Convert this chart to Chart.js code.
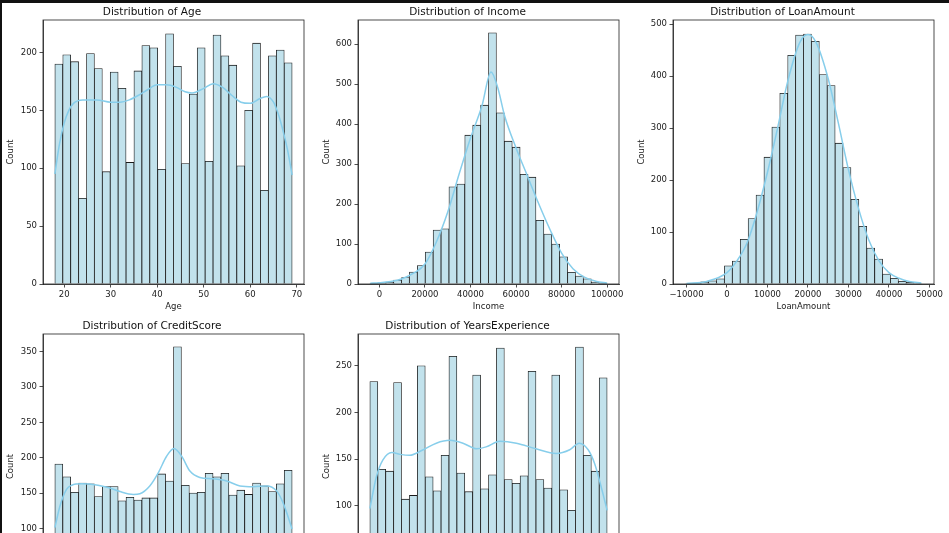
<!DOCTYPE html>
<html>
<head>
<meta charset="utf-8">
<script src="https://cdn.jsdelivr.net/npm/chart.js@4.4.1/dist/chart.umd.min.js"></script>
<style>
  html, body { margin: 0; padding: 0; background: #fff; }
  body { width: 949px; height: 533px; overflow: hidden; position: relative; }
  canvas { position: absolute; }
  .edge { position: absolute; background: #111; }
</style>
</head>
<body>
<div class="edge" style="left:0;top:0;width:949px;height:3px"></div>
<div class="edge" style="left:0;top:0;width:2px;height:533px"></div>
<canvas id="age" width="316" height="315" style="left:0;top:0"></canvas>
<canvas id="income" width="315" height="315" style="left:316px;top:0"></canvas>
<canvas id="loan" width="318" height="315" style="left:631px;top:0"></canvas>
<canvas id="credit" width="316" height="316" style="left:0;top:314px"></canvas>
<canvas id="years" width="315" height="316" style="left:316px;top:314px"></canvas>
<script>
// histogram counts (30 bins each)
const ageCounts = [190, 198, 192, 74, 199, 186, 97, 183, 169, 105, 184, 206, 204, 99, 216,
  188, 104, 164, 204, 106, 215, 197, 189, 102, 150, 208, 81, 197, 202, 191];
const incomeCounts = [1, 3, 5, 10, 16, 30, 46, 80, 135, 138, 243, 250, 372, 397, 447,
  628, 428, 357, 342, 274, 267, 159, 125, 100, 68, 29, 20, 13, 5, 2];
const loanCounts = [1, 2, 4, 6, 10, 35, 44, 86, 126, 171, 244, 302, 367, 440, 479,
  481, 467, 403, 382, 271, 224, 163, 111, 69, 48, 19, 11, 5, 3, 1];
const creditCounts = [191, 173, 151, 164, 163, 145, 159, 159, 139, 144, 140, 143, 143, 177, 167,
  357, 161, 150, 151, 178, 173, 178, 147, 154, 148, 164, 160, 152, 163, 182];
const yearsCounts = [233, 139, 137, 232, 107, 111, 250, 131, 116, 154, 260, 135, 115, 240, 118,
  133, 269, 128, 124, 132, 244, 128, 119, 240, 117, 95, 270, 154, 137, 237];

// bin ranges [first edge, last edge]
const ageRange = [18, 69];
const incomeRange = [-4200, 100000];
const loanRange = [-10400, 48200];
const creditRange = [300, 850];
const yearsRange = [0, 40];

// kde curves
const ageKdeX = [18, 19, 20, 21, 22, 24, 27, 30, 32, 34, 36, 38, 40, 42, 44, 46, 47.5, 50, 52, 54,
  56, 58, 60, 62, 63.5, 65, 66, 67, 68, 69];
const ageKdeY = [95, 121, 139, 150, 156, 159, 159, 157, 157, 159, 163, 168, 172, 172, 170, 166, 165, 169, 173, 170,
  163, 157, 156, 160, 162, 157, 147, 133, 116, 94];
const incomeKdeX = [-4000, 0, 5000, 10000, 15000, 20000, 25000, 30000, 35000, 40000, 45000, 49000,
  52000, 55000, 60000, 65000, 70000, 75000, 80000, 85000, 90000, 95000, 100000];
const incomeKdeY = [2, 3, 6, 13, 27, 50, 105, 180, 275, 365, 445, 530,
  490, 420, 340, 270, 200, 135, 77, 38, 17, 7, 2];
const loanKdeX = [-10000, -5000, 0, 2500, 5000, 7500, 10000, 12500, 15000, 18000, 20000, 22000,
  25000, 27500, 30000, 32500, 35000, 37500, 40000, 42500, 45000, 48000];
const loanKdeY = [1, 5, 22, 45, 80, 140, 215, 300, 390, 465, 480, 465,
  395, 310, 220, 145, 85, 45, 22, 11, 5, 2];
const creditKdeX = [300, 312, 327, 339, 362, 400, 428, 451, 482, 497, 520, 540, 559, 576, 594,
  613, 636, 667, 698, 729, 760, 791, 814, 829, 850];
const creditKdeY = [101, 132, 155, 161, 163, 161, 157, 152, 148, 149, 160, 179, 202, 213, 202,
  181, 172, 170, 167, 160, 159, 160, 153, 136, 99];
const yearsKdeX = [0, 1.1, 2.2, 3.7, 5.1, 6.7, 9, 11.2, 13.5, 15.7, 18, 19.6, 21.9, 24.7, 28,
  31.4, 33.7, 35.3, 36.8, 37.9, 39, 40];
const yearsKdeY = [97, 131, 149, 157, 155, 154, 160, 167, 170, 167, 161, 163, 169, 167, 161,
  156, 160, 167, 160, 145, 120, 95];

// tick labels
const ageXTicks = [20, 30, 40, 50, 60, 70];
const ageYTicks = [0, 50, 100, 150, 200];
const incomeXTicks = [0, 20000, 40000, 60000, 80000, 100000];
const incomeYTicks = [0, 100, 200, 300, 400, 500, 600];
const loanXTicks = [-10000, 0, 10000, 20000, 30000, 40000, 50000];
const loanYTicks = [0, 100, 200, 300, 400, 500];
const creditXTicks = [300, 400, 500, 600, 700, 800];
const creditYTicks = [0, 50, 100, 150, 200, 250, 300, 350];
const yearsXTicks = [0, 10, 20, 30, 40];
const yearsYTicks = [0, 50, 100, 150, 200, 250];

const FONT = 'DejaVu Sans';
const INK = '#222';

// draw top and right spines too
const frame = {
  id: 'frame',
  afterDatasetsDraw(chart) {
    const { ctx, chartArea: a } = chart;
    ctx.save();
    ctx.strokeStyle = INK;
    ctx.lineWidth = 0.8;
    ctx.strokeRect(a.left, a.top, a.right - a.left, a.bottom - a.top);
    ctx.restore();
  }
};

function fmt(v) {
  return v < 0 ? '\u2212' + Math.abs(v) : String(v);
}

function hist(id, o) {
  const w = (o.range[1] - o.range[0]) / o.counts.length;
  const bars = o.counts.map((c, i) => ({ x: o.range[0] + w * (i + 0.5), y: c }));
  const kde = o.kdeX.map((x, i) => ({ x: x, y: o.kdeY[i] }));
  const span = o.range[1] - o.range[0];

  new Chart(document.getElementById(id), {
    type: 'bar',
    data: {
      datasets: [
        {
          type: 'line',
          data: kde,
          borderColor: '#87ceeb',
          borderWidth: 1.5,
          pointRadius: 0,
          tension: 0.4,
          cubicInterpolationMode: 'monotone',
          order: 0
        },
        {
          data: bars,
          backgroundColor: '#c2e2ec',
          borderColor: '#1a1a1a',
          borderWidth: 0.8,
          barPercentage: 1,
          categoryPercentage: 1,
          order: 1
        }
      ]
    },
    options: {
      responsive: false,
      animation: false,
      layout: { padding: { left: 0, right: o.padRight, top: 0, bottom: 0 } },
      plugins: {
        legend: { display: false },
        tooltip: { enabled: false },
        title: {
          display: true,
          text: o.title,
          color: '#111',
          font: { family: FONT, size: 10.5, weight: 'normal', lineHeight: 1.2 },
          padding: { top: 6, bottom: 1.4 }
        }
      },
      scales: {
        x: {
          type: 'linear',
          offset: false,
          min: o.range[0] - span * 0.05,
          max: o.range[1] + span * 0.05,
          afterBuildTicks: s => { s.ticks = o.xTicks.map(v => ({ value: v })); },
          afterFit: s => { s.height = 31; },
          grid: { display: true, offset: false, drawOnChartArea: false, drawTicks: true,
            tickLength: 3.5, tickWidth: 0.8, tickColor: INK },
          border: { display: true, color: INK, width: 0.8 },
          ticks: { color: INK, padding: 2.5, maxRotation: 0, autoSkip: false,
            font: { family: FONT, size: 8.5 }, callback: v => fmt(v) },
          title: { display: true, text: o.xLabel, color: INK,
            font: { family: FONT, size: 8.5 }, padding: { top: 0, bottom: 3 } }
        },
        y: {
          min: 0,
          max: o.yMax,
          afterBuildTicks: s => { s.ticks = o.yTicks.map(v => ({ value: v })); },
          afterFit: s => { s.width = o.yWidth; },
          grid: { display: true, drawOnChartArea: false, drawTicks: true,
            tickLength: 3.5, tickWidth: 0.8, tickColor: INK },
          border: { display: true, color: INK, width: 0.8 },
          ticks: { color: INK, padding: 2.5, autoSkip: false,
            font: { family: FONT, size: 8.5 }, callback: v => fmt(v) },
          title: { display: true, text: 'Count', color: INK,
            font: { family: FONT, size: 8.5 }, padding: { top: 5.8, bottom: 0 } }
        }
      }
    },
    plugins: [frame]
  });
}

hist('age', { title: 'Distribution of Age', xLabel: 'Age', counts: ageCounts, range: ageRange,
  kdeX: ageKdeX, kdeY: ageKdeY, xTicks: ageXTicks, yTicks: ageYTicks, yMax: 228, yWidth: 43, padRight: 12 });
hist('income', { title: 'Distribution of Income', xLabel: 'Income', counts: incomeCounts, range: incomeRange,
  kdeX: incomeKdeX, kdeY: incomeKdeY, xTicks: incomeXTicks, yTicks: incomeYTicks, yMax: 660, yWidth: 42, padRight: 12 });
hist('loan', { title: 'Distribution of LoanAmount', xLabel: 'LoanAmount', counts: loanCounts, range: loanRange,
  kdeX: loanKdeX, kdeY: loanKdeY, xTicks: loanXTicks, yTicks: loanYTicks, yMax: 508, yWidth: 42, padRight: 15 });
hist('credit', { title: 'Distribution of CreditScore', xLabel: 'CreditScore', counts: creditCounts, range: creditRange,
  kdeX: creditKdeX, kdeY: creditKdeY, xTicks: creditXTicks, yTicks: creditYTicks, yMax: 375, yWidth: 43, padRight: 12 });
hist('years', { title: 'Distribution of YearsExperience', xLabel: 'YearsExperience', counts: yearsCounts, range: yearsRange,
  kdeX: yearsKdeX, kdeY: yearsKdeY, xTicks: yearsXTicks, yTicks: yearsYTicks, yMax: 284, yWidth: 42, padRight: 12 });
</script>
</body>
</html>
